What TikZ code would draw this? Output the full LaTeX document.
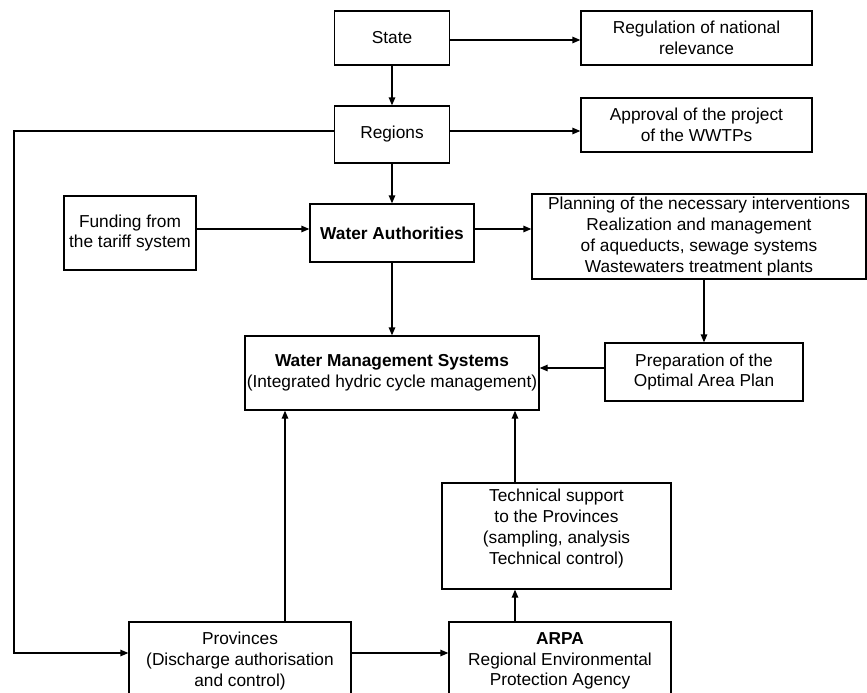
\documentclass[tikz,border=0pt]{standalone}
\usepackage{fontspec}
\setmainfont{Liberation Sans}
\usetikzlibrary{arrows.meta}

\tikzset{
  box/.style={draw, line width=1.3pt, align=center, inner sep=0pt,
    font=\fontsize{17.3}{20.7}\selectfont},
  txt/.style={align=center, inner sep=0pt, font=\fontsize{17.3}{20.7}\selectfont},
  arr/.style={line width=1.3pt, -{Triangle[length=8pt,width=6.5pt]}},
}

\begin{document}
\begin{tikzpicture}[x=1pt,y=-1pt]
\useasboundingbox (0,0) rectangle (867,693);
\clip (0,0) rectangle (867,693);

% upper hierarchy
\node[box, minimum width=115pt, minimum height=54pt] (state) at (392,38) {State};
\node[box, minimum width=231pt, minimum height=54pt] (reg) at (696.5,38) {Regulation of national\\relevance};
\node[box, minimum width=115pt, minimum height=57pt] (regions) at (392,134.5) {Regions};
\node[box, minimum width=231pt, minimum height=54pt] (approval) at (696.5,125) {Approval of the project\\of the WWTPs};

% water authorities level
\node[box, minimum width=132pt, minimum height=74pt] (funding) at (130,233) {Funding from\\the tariff system};
\node[box, minimum width=164pt, minimum height=58pt] (wa) at (392,233) {\textbf{Water Authorities}};
\node[box, minimum width=334pt, minimum height=85pt] (planning) at (699,236.5)
  {Planning of the necessary interventions\\Realization and management\\of aqueducts, sewage systems\\Wastewaters treatment plants};

% management systems level
\node[box, minimum width=294pt, minimum height=74pt] (wms) at (392,373)
  {\textbf{Water Management Systems}\\(Integrated hydric cycle management)};
\node[box, minimum width=198pt, minimum height=58pt] (prep) at (704,372) {Preparation of the\\Optimal Area Plan};

% technical support
\node[box, minimum width=229pt, minimum height=106pt] (tech) at (556.5,536) {};
\node[txt] (techtext) at (556.5,528.5) {Technical support\\to the Provinces\\(sampling, analysis\\Technical control)};

% bottom row
\node[box, minimum width=222pt, minimum height=78pt] (prov) at (240,661)
  {Provinces\\(Discharge authorisation\\and control)};
\node[box, minimum width=222pt, minimum height=78pt] (arpa) at (560,661)
  {\textbf{ARPA}\\Regional Environmental\\Protection Agency};

% connectors
\draw[arr] ([yshift=-2pt]state.east) -- ([yshift=-2pt]state.east -| reg.west);
\draw[arr] (state.south) -- (regions.north);
\draw[arr] ([yshift=3.5pt]regions.east) -- ([yshift=3.5pt]regions.east -| approval.west);
\draw[arr] (regions.south) -- (wa.north);
\draw[arr] ([yshift=4pt]funding.east) -- ([yshift=4pt]funding.east -| wa.west);
\draw[arr] ([yshift=4pt]wa.east) -- ([yshift=4pt]wa.east -| planning.west);
\draw[arr] (wa.south) -- (wms.north);
\draw[arr] (prep.north |- planning.south) -- (prep.north);
\draw[arr] ([yshift=4pt]prep.west) -- ([yshift=4pt]prep.west -| wms.east);

% feedback line from Regions down to Provinces
\coordinate (lt) at (14,131);
\coordinate (lb) at (14,653);
\draw[arr] ([yshift=3.5pt]regions.west) -- (lt) -- (lb) -- (lb -| prov.west);

\draw[arr] ([xshift=45pt]prov.north) -- ([xshift=45pt]prov.north |- wms.south);
\draw[arr] ([yshift=8pt]prov.east) -- ([yshift=8pt]prov.east -| arpa.west);
\draw[arr] ([xshift=-45pt]arpa.north) -- ([xshift=-45pt]arpa.north |- tech.south);
\draw[arr] ([xshift=-45pt]arpa.north |- tech.north) -- ([xshift=-45pt]arpa.north |- wms.south);
\end{tikzpicture}
\end{document}
